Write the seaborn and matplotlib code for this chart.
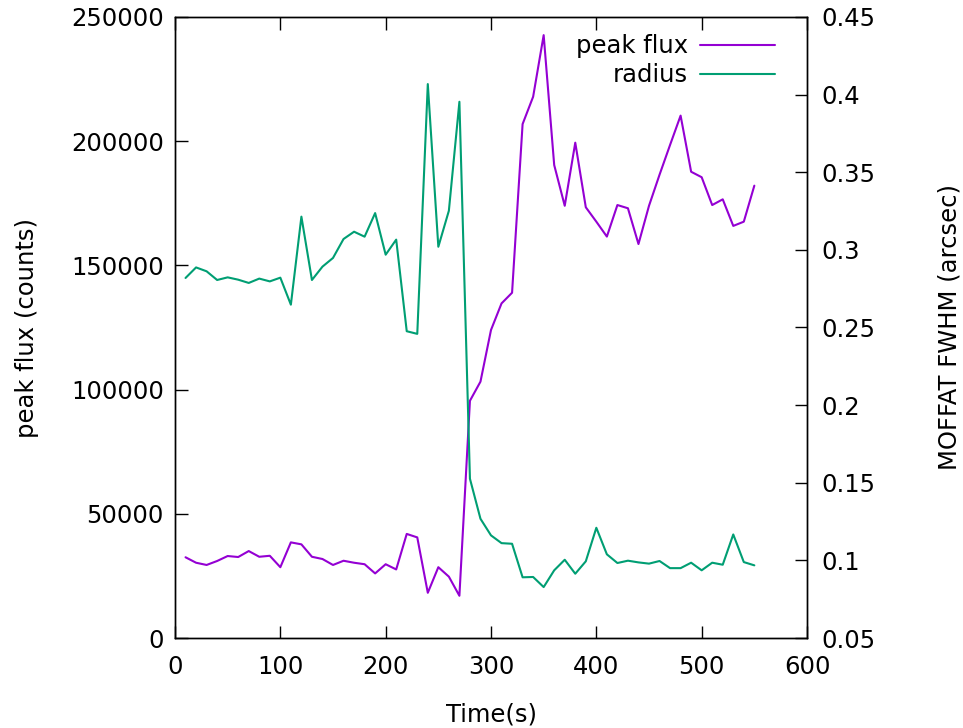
import seaborn as sns
import matplotlib.pyplot as plt
import pandas as pd

# time stamps (s)
time_s = [10, 20, 30, 40, 50, 60, 70, 80, 90, 100,
          110, 120, 130, 140, 150, 160, 170, 180, 190, 200,
          210, 220, 230, 240, 250, 260, 270, 280, 290, 300,
          310, 320, 330, 340, 350, 360, 370, 380, 390, 400,
          410, 420, 430, 440, 450, 460, 470, 480, 490, 500,
          510, 520, 530, 540, 550]

# peak flux (counts)
peak_flux = [32500, 30300, 29400, 31000, 33000, 32600, 35000, 32700, 33100, 28500,
             38500, 37700, 32700, 31800, 29400, 31100, 30300, 29700, 26000, 29700,
             27600, 41900, 40500, 18200, 28500, 24700, 17000, 95500, 103200, 124000,
             134700, 139000, 206900, 217900, 242700, 190400, 174000, 199400, 173400, 167600,
             161600, 174300, 173000, 158600, 174000, 186500, 198500, 210300, 187700, 185500,
             174300, 176600, 165900, 167600, 182100]

# MOFFAT FWHM (arcsec)
radius = [0.2819, 0.2887, 0.2862, 0.2806, 0.2823, 0.2808, 0.2787, 0.2815, 0.2797, 0.2821,
          0.2647, 0.3214, 0.2806, 0.2892, 0.2948, 0.3070, 0.3117, 0.3085, 0.3237, 0.2969,
          0.3066, 0.2476, 0.2459, 0.4068, 0.3020, 0.3252, 0.3954, 0.1526, 0.1268, 0.1161,
          0.1111, 0.1107, 0.0891, 0.0893, 0.0828, 0.0936, 0.1004, 0.0914, 0.0994, 0.1210,
          0.1039, 0.0983, 0.0998, 0.0987, 0.0979, 0.0996, 0.0950, 0.0950, 0.0985, 0.0936,
          0.0985, 0.0972, 0.1167, 0.0989, 0.0968]

df = pd.DataFrame({"time": time_s, "flux": peak_flux, "radius": radius})

sns.set_theme(style="ticks")
plt.rcParams['font.family'] = ['DejaVu Sans']
plt.rcParams['text.color'] = 'black'
plt.rcParams['axes.labelcolor'] = 'black'
fs = 17.5

fig = plt.figure(figsize=(9.63, 7.28), dpi=100)
ax = fig.add_axes([175 / 963, 1 - 638 / 728, 632 / 963, 621 / 728])
ax2 = ax.twinx()

sns.lineplot(data=df, x="time", y="flux", ax=ax, color="#9400d3", lw=1.5, legend=False)
sns.lineplot(data=df, x="time", y="radius", ax=ax2, color="#009e73", lw=1.5, legend=False)

ax.set_xlim(0, 600)
ax.set_ylim(0, 250000)
ax2.set_ylim(0.05, 0.45)
ax.set_xticks([0, 100, 200, 300, 400, 500, 600])
ax.set_yticks([0, 50000, 100000, 150000, 200000, 250000])
ax2.set_yticks([0.05, 0.1, 0.15, 0.2, 0.25, 0.3, 0.35, 0.4, 0.45])
ax2.set_yticklabels(["0.05", "0.1", "0.15", "0.2", "0.25", "0.3", "0.35", "0.4", "0.45"])

for a in (ax, ax2):
    for s in a.spines.values():
        s.set_visible(True)
        s.set_color("black")
        s.set_linewidth(1.0)

ax.tick_params(axis="x", direction="in", top=True, bottom=True, length=9, width=1,
               labelsize=fs, pad=12, colors="black")
ax.tick_params(axis="y", direction="in", left=True, right=False, length=9, width=1,
               labelsize=fs, pad=8, colors="black")
ax2.tick_params(axis="y", direction="in", left=False, right=True, length=9, width=1,
                labelsize=fs, pad=10, colors="black")

ax.set_xlabel("Time(s)", fontsize=fs, color="black")
ax.set_ylabel("peak flux (counts)", fontsize=fs, color="black")
ax2.set_ylabel("MOFFAT FWHM (arcsec)", fontsize=fs, color="black")
ax.xaxis.set_label_coords(0.5, -0.104)
ax.yaxis.set_label_coords(-0.215, 0.5)
ax2.yaxis.set_label_coords(1.207, 0.5)

handles = [ax.get_lines()[0], ax2.get_lines()[0]]
leg = ax2.legend(handles, ["peak flux", "radius"], loc="upper right", bbox_to_anchor=(0.95, 0.972),
                 frameon=False, markerfirst=False, fontsize=fs, handlelength=3.1,
                 handletextpad=0.5, labelspacing=0.2, borderpad=0, borderaxespad=0)
for t in leg.get_texts():
    t.set_color("black")

fig.savefig("out.png", dpi=100)
